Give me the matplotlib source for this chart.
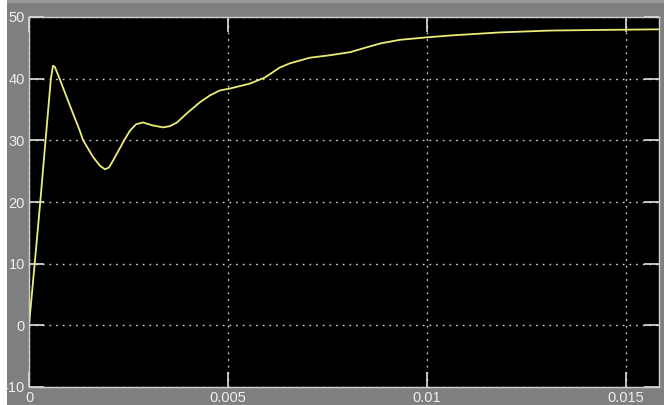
import matplotlib
matplotlib.use("Agg")
import matplotlib.pyplot as plt
from matplotlib.patches import Rectangle

# Scope trace: time (s) and signal value
time_s = [0.0, 0.00015, 0.000276, 0.000402, 0.000503, 0.00055, 0.000603, 0.00065,
          0.00078, 0.00103, 0.00128, 0.00136, 0.00161, 0.00178, 0.00191, 0.00201,
          0.00211, 0.00229, 0.00239, 0.00254, 0.00269, 0.00286, 0.00312, 0.00337,
          0.00354, 0.00372, 0.00397, 0.0043, 0.00455, 0.0048, 0.00505, 0.0053,
          0.00555, 0.00593, 0.0063, 0.00656, 0.00706, 0.00756, 0.00807, 0.00844,
          0.00882, 0.00932, 0.0100, 0.01058, 0.01133, 0.01183, 0.01309, 0.01435,
          0.01583]
signal = [0.0, 10.5, 19.5, 29.0, 36.5, 40.0, 42.1, 41.9,
          39.8, 35.6, 31.5, 30.0, 27.3, 25.9, 25.3, 25.6,
          26.7, 28.8, 30.0, 31.6, 32.6, 32.9, 32.4, 32.1,
          32.3, 32.9, 34.4, 36.2, 37.3, 38.1, 38.4, 38.8,
          39.2, 40.2, 41.8, 42.5, 43.4, 43.8, 44.3, 45.0,
          45.7, 46.3, 46.7, 47.0, 47.3, 47.5, 47.8, 47.9,
          48.0]

x_ticks = [0, 0.005, 0.01, 0.015]
x_labels = ["0", "0.005", "0.01", "0.015"]
y_ticks = [-10, 0, 10, 20, 30, 40, 50]
y_labels = ["-10", "0", "10", "20", "30", "40", "50"]

W, H = 664, 405
fig = plt.figure(figsize=(W / 100, H / 100), dpi=100, facecolor="#7f7f7f")

# window edge strips
fig.patches.append(Rectangle((0, 0), 7 / W, 1, transform=fig.transFigure,
                             facecolor="white", edgecolor="none", zorder=0))
fig.patches.append(Rectangle((7 / W, 1 - 3 / H), 1, 3 / H, transform=fig.transFigure,
                             facecolor="#9a9a9a", edgecolor="none", zorder=0))

ax = fig.add_axes([29 / W, 18 / H, 630 / W, 370 / H])
ax.set_facecolor("black")

ax.plot(time_s, signal, color="#ecec78", lw=1.3, solid_joinstyle="round")

ax.set_xlim(0, 0.01583)
ax.set_ylim(-10, 50)
ax.set_xticks(x_ticks)
ax.set_xticklabels(x_labels)
ax.set_yticks(y_ticks)
ax.set_yticklabels(y_labels)

ax.grid(True, color="#d8d8d8", linestyle=(0, (1.2, 3.6)), lw=1.0)
ax.tick_params(direction="in", length=11, width=1.2, color="#e0e0e0",
               top=True, right=True, labelcolor="#eeeeee", labelsize=10.5)
ax.tick_params(axis="x", pad=3)
ax.tick_params(axis="y", pad=3)
for lab in ax.get_xticklabels() + ax.get_yticklabels():
    lab.set_family("Liberation Sans")
for sp in ax.spines.values():
    sp.set_color("#d0d0d0")
    sp.set_linewidth(1.0)

fig.savefig("out.png", dpi=100, facecolor=fig.get_facecolor())
